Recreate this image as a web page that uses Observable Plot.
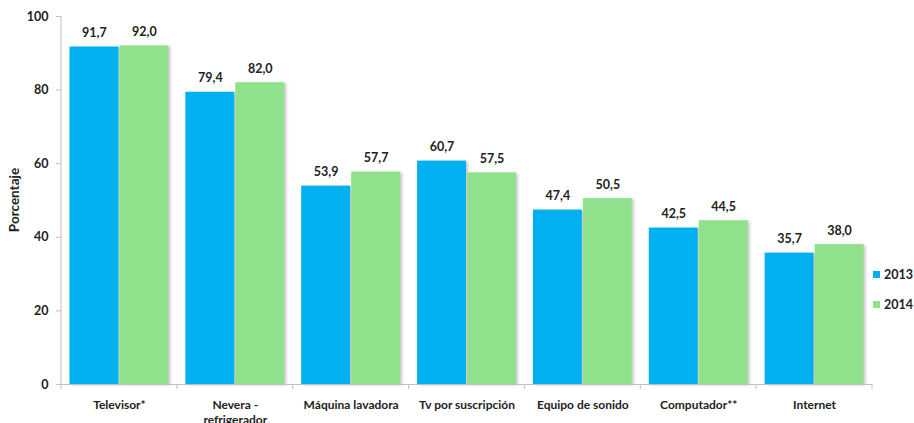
<!DOCTYPE html>
<html>
<head>
<meta charset="utf-8">
<script src="https://cdn.jsdelivr.net/npm/d3@7"></script>
<script src="https://cdn.jsdelivr.net/npm/@observablehq/plot@0.6"></script>
<style>
  html, body { margin: 0; padding: 0; background: #fff; }
  #wrap { position: relative; width: 914px; height: 423px; overflow: hidden; font-family: Lato, "Open Sans", sans-serif; }
  #wrap svg g[aria-label="bar"] rect { filter: drop-shadow(2px 1px 1.5px rgba(0,0,0,0.22)); }
  #legend { position: absolute; left: 873px; top: 259px; font: bold 12.5px Lato, sans-serif; color: #222; }
  #legend div { display: flex; align-items: center; height: 30px; margin: 0; }
  #legend span.sw { display: inline-block; width: 7px; height: 7px; margin-right: 4px; }
</style>
</head>
<body>
<div id="wrap"></div>
<script>
const categories = ["Televisor*", "Nevera - refrigerador", "Máquina lavadora", "Tv por suscripción", "Equipo de sonido", "Computador**", "Internet"];
const years = ["2013", "2014"];
const values2013 = [91.7, 79.4, 53.9, 60.7, 47.4, 42.5, 35.7];
const values2014 = [92.0, 82.0, 57.7, 57.5, 50.5, 44.5, 38.0];
const yTicks = [0, 20, 40, 60, 80, 100];
const colors = ["#00B0F0", "#90E18C"];

const data = [];
categories.forEach((c, i) => {
  data.push({cat: c, year: years[0], value: values2013[i]});
  data.push({cat: c, year: years[1], value: values2014[i]});
});
const fmt = v => v.toFixed(1).replace(".", ",");
const labelFmt = c => c === "Nevera - refrigerador" ? "Nevera -\nrefrigerador" : c;

const W = 914, H = 423;
const chart = Plot.plot({
  width: W,
  height: H,
  marginLeft: 61,
  marginRight: 42,
  marginTop: 16,
  marginBottom: 39,
  style: {fontFamily: "Lato, 'Open Sans', sans-serif", fontSize: "12px", fontWeight: "bold", color: "#222", background: "#fff", overflow: "visible"},
  fx: {domain: categories, padding: 0, round: false, label: null},
  x: {type: "band", domain: years, paddingInner: 0.02, paddingOuter: 0.17, round: false, axis: null},
  y: {domain: [0, 100], label: null},
  color: {domain: years, range: colors},
  marks: [
    Plot.axisY({ticks: yTicks, tickSize: 5, tickPadding: 8, stroke: "#bfbfbf", fontSize: 12.5, label: null}),
    Plot.axisFx({anchor: "bottom", tickSize: 0, tickPadding: 13, tickFormat: labelFmt, lineHeight: 1.3, label: null}),
    Plot.barY(data, {fx: "cat", x: "year", y: "value", fill: "year"}),
    Plot.ruleY([0], {stroke: "#bfbfbf"}),
    Plot.text(data, {fx: "cat", x: "year", y: "value", text: d => fmt(d.value), dy: -10, lineAnchor: "bottom", fontWeight: "bold", fontSize: 12.5, fill: "#222"})
  ]
});

// y-axis line, boundary ticks and y label drawn from Plot's own scales
const svg = d3.select(chart);
const fxS = chart.scale("fx"), yS = chart.scale("y");
const y0 = yS.apply(0), y100 = yS.apply(100);
const x0 = fxS.apply(categories[0]);
svg.append("line").attr("x1", x0).attr("x2", x0).attr("y1", y100).attr("y2", y0)
  .attr("stroke", "#bfbfbf");
const bounds = categories.map(c => fxS.apply(c)).concat([fxS.apply(categories[categories.length - 1]) + fxS.bandwidth]);
bounds.forEach(b => {
  svg.append("line").attr("x1", b).attr("x2", b).attr("y1", y0).attr("y2", y0 + 5).attr("stroke", "#bfbfbf");
});
svg.append("text").text("Porcentaje")
  .attr("transform", `translate(19,${(y0 + y100) / 2}) rotate(-90)`)
  .attr("text-anchor", "middle").attr("font-weight", "bold").attr("font-size", "13.5px").attr("fill", "#222");

document.getElementById("wrap").appendChild(chart);

const legend = document.createElement("div");
legend.id = "legend";
years.forEach((y, i) => {
  const row = document.createElement("div");
  const sw = document.createElement("span");
  sw.className = "sw";
  sw.style.background = colors[i];
  row.appendChild(sw);
  row.appendChild(document.createTextNode(y));
  legend.appendChild(row);
});
document.getElementById("wrap").appendChild(legend);
</script>
</body>
</html>
